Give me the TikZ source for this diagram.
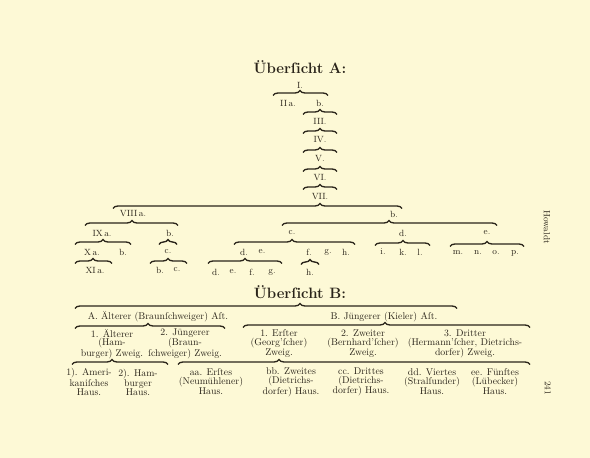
\documentclass[tikz,border=0pt]{standalone}
\usepackage{fontspec}
\usetikzlibrary{decorations.pathreplacing}
\definecolor{paper}{RGB}{253,249,214}
\definecolor{ink}{RGB}{42,36,26}
\newcommand\hbr[4]{%
  \pgfmathsetmacro\asp{(#3-#1)/(#2-#1)}%
  \draw[brc, decoration={brace, amplitude=5pt, aspect=\asp}] (#1,#4+2.5) -- (#2,#4+2.5);}
\tikzset{
  brc/.style={decorate, draw=ink, line width=1.35pt},
  lbl/.style={inner sep=0pt, text=ink, font=\fontsize{9}{10}\selectfont},
  frk/.style={inner sep=0pt, text=ink, align=center, font=\fontsize{9.8}{8.9}\selectfont},
  ttl/.style={inner sep=0pt, text=ink, font=\fontsize{15}{16}\selectfont\bfseries},
}
\begin{document}
\begin{tikzpicture}[x=1pt,y=-1pt]
\path[fill=paper, use as bounding box] (0,0) rectangle (590,458);
% ---------- Schema A ----------
\node[ttl] (tA) at (300,67) {Überſicht A:};
\node[lbl] (a1) at (300,85) {I.};
\hbr{273}{328}{300}{93}
\node[lbl] (a2a) at (288,103) {II\,a.};
\node[lbl] (a2b) at (320,103) {b.};
\hbr{303}{337}{320}{112}
\node[lbl] (a3) at (320,121) {III.};
\hbr{303}{337}{320}{131}
\node[lbl] (a4) at (320,140) {IV.};
\hbr{303}{337}{320}{150}
\node[lbl] (a5) at (320,159) {V.};
\hbr{303}{337}{320}{169}
\node[lbl] (a6) at (320,178) {VI.};
\hbr{303}{337}{320}{187}
\node[lbl] (a7) at (320,197) {VII.};
\hbr{113}{402}{320}{206}
\node[lbl] (a8a) at (133,214) {VIII\,a.};
\node[lbl] (a8b) at (394,214) {b.};
% left part
\hbr{85}{178}{132}{223}
\node[lbl] (a9a) at (102,233) {IX\,a.};
\node[lbl] (a9b) at (170,233) {b.};
\hbr{75}{131}{103}{242}
\node[lbl] (a10a) at (92,252) {X\,a.};
\node[lbl] (a10b) at (123,252) {b.};
\hbr{75}{112}{93}{261}
\node[lbl] (a11a) at (95,270) {XI\,a.};
\hbr{159}{177}{168}{242}
\node[lbl] (a10c) at (168,252) {c.};
\hbr{150}{187}{168}{261}
\node[lbl] (a11b) at (160,270) {b.};
\node[lbl] (a11c) at (177,270) {c.};
% right part
\hbr{282}{497}{389}{223}
\node[lbl] (a9c) at (292,233) {c.};
\node[lbl] (a9d) at (403,233) {d.};
\node[lbl] (a9e) at (487,233) {e.};
\hbr{234}{355}{292}{242}
\node[lbl] (a10d) at (244,252) {d.};
\node[lbl] (a10e) at (262,252) {e.};
\node[lbl] (a10f) at (309,252) {f.};
\node[lbl] (a10g) at (328,252) {g.};
\node[lbl] (a10h) at (346,252) {h.};
\hbr{208}{282}{245}{261}
\node[lbl] (a11d) at (216,272) {d.};
\node[lbl] (a11e) at (233,272) {e.};
\node[lbl] (a11f) at (252,272) {f.};
\node[lbl] (a11g) at (272,272) {g.};
\hbr{301}{319}{310}{262}
\node[lbl] (a11h) at (310,272) {h.};
\hbr{375}{430}{403}{243}
\node[lbl] (a10i) at (383,252) {i.};
\node[lbl] (a10k) at (403,252) {k.};
\node[lbl] (a10l) at (420,252) {l.};
\hbr{450}{524}{487}{244}
\node[lbl] (a10m) at (458,253) {m.};
\node[lbl] (a10n) at (478,253) {n.};
\node[lbl] (a10o) at (496,253) {o.};
\node[lbl] (a10p) at (515,253) {p.};
% ---------- Schema B ----------
\node[ttl] (tB) at (300,292) {Überſicht B:};
\hbr{75}{457}{300}{306}
\node[frk] (bA) at (158,317) {A. Älterer (Braunſchweiger) Aſt.};
\node[frk] (bB) at (384,317) {B. Jüngerer (Kieler) Aſt.};
\hbr{75}{225}{148}{326}
\hbr{243}{530}{385}{325}
\node[frk] (z1) at (112,344) {1. Älterer\\(Ham-\\burger) Zweig.};
\node[frk] (z2) at (185,344) {2. Jüngerer\\(Braun-\\ſchweiger) Zweig.};
\node[frk] (z3) at (279,344) {1. Erſter\\(Georg'ſcher)\\Zweig.};
\node[frk] (z4) at (363,344) {2. Zweiter\\(Bernhard'ſcher)\\Zweig.};
\node[frk] (z5) at (465,344) {3. Dritter\\(Hermann'ſcher, Dietrichs-\\dorfer) Zweig.};
\hbr{72}{168}{112}{362}
\hbr{178}{530}{279}{362}
\node[frk] (h1) at (89,382) {1). Ameri-\\kaniſches\\Haus.};
\node[frk] (h2) at (138,382) {2). Ham-\\burger\\Haus.};
\node[frk] (h3) at (211,382) {aa. Erſtes\\(Neumühlener)\\Haus.};
\node[frk] (h4) at (291,382) {bb. Zweites\\(Dietrichs-\\dorfer) Haus.};
\node[frk] (h5) at (361,382) {cc. Drittes\\(Dietrichs-\\dorfer) Haus.};
\node[frk] (h6) at (432,382) {dd. Viertes\\(Stralſunder)\\Haus.};
\node[frk] (h7) at (495,382) {ee. Fünftes\\(Lübecker)\\Haus.};
% ---------- margin ----------
\node[lbl, rotate=-90] (side) at (547,227) {Howaldt};
\node[lbl, rotate=-90] (page) at (548,388) {241};
\end{tikzpicture}
\end{document}
